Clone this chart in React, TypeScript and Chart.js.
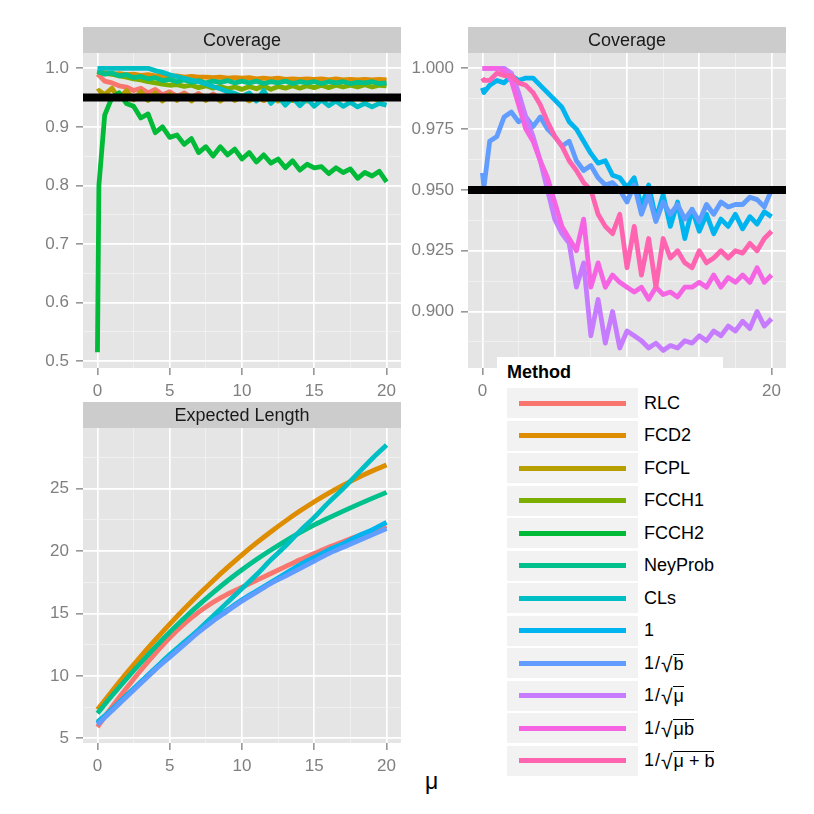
import React, { useEffect, useRef } from "react";
import { Chart, registerables } from "chart.js";

Chart.register(...registerables);

const FONT = '"Liberation Sans", Arial, Helvetica, sans-serif';

// mu grid of the coverage simulations
const muCov = [
  0, 0.1, 0.5, 1, 1.5, 2, 2.5, 3, 3.5, 4, 4.5, 5, 5.5, 6, 6.5, 7, 7.5, 8, 8.5, 9, 9.5,
  10, 10.5, 11, 11.5, 12, 12.5, 13, 13.5, 14, 14.5, 15, 15.5, 16, 16.5, 17, 17.5, 18,
  18.5, 19, 19.5, 20,
];
const muLen = [0, 1, 2, 3, 4, 5, 6, 7, 8, 9, 10, 11, 12, 13, 14, 15, 16, 17, 18, 19, 20];

const coverageTarget = 0.95;

// coverage, classic methods (left panel)
const covRLC = [
  0.99, 0.988, 0.978, 0.975, 0.97, 0.968, 0.962, 0.966, 0.958, 0.964, 0.955, 0.96, 0.952,
  0.958, 0.95, 0.957, 0.948, 0.956, 0.947, 0.955, 0.946, 0.953, 0.946, 0.952, 0.945, 0.951,
  0.946, 0.95, 0.945, 0.95, 0.946, 0.949, 0.945, 0.95, 0.946, 0.949, 0.945, 0.95, 0.946,
  0.949, 0.946, 0.95,
];
const covFCD2 = [
  0.995, 0.994, 0.992, 0.99, 0.991, 0.989, 0.99, 0.988, 0.989, 0.987, 0.988, 0.986, 0.987,
  0.985, 0.986, 0.985, 0.985, 0.984, 0.985, 0.983, 0.984, 0.983, 0.984, 0.982, 0.983, 0.982,
  0.983, 0.981, 0.982, 0.981, 0.982, 0.981, 0.982, 0.98, 0.982, 0.98, 0.981, 0.98, 0.981,
  0.98, 0.981, 0.98,
];
const covFCPL = [
  0.96, 0.962, 0.955, 0.966, 0.948, 0.962, 0.946, 0.96, 0.945, 0.958, 0.944, 0.956, 0.945,
  0.955, 0.944, 0.954, 0.945, 0.953, 0.944, 0.953, 0.945, 0.952, 0.944, 0.952, 0.945, 0.951,
  0.944, 0.951, 0.945, 0.95, 0.944, 0.95, 0.945, 0.95, 0.944, 0.95, 0.945, 0.95, 0.944,
  0.95, 0.945, 0.95,
];
const covFCCH1 = [
  0.993, 0.993, 0.991, 0.99, 0.987, 0.985, 0.982, 0.98, 0.977, 0.975, 0.973, 0.971, 0.972,
  0.969, 0.971, 0.967, 0.97, 0.966, 0.969, 0.965, 0.968, 0.964, 0.969, 0.965, 0.97, 0.964,
  0.969, 0.966, 0.97, 0.966, 0.97, 0.967, 0.971, 0.967, 0.971, 0.968, 0.971, 0.968, 0.972,
  0.968, 0.971, 0.97,
];
const covFCCH2 = [
  0.515, 0.8, 0.92, 0.95, 0.958, 0.94, 0.935, 0.915, 0.922, 0.89, 0.9, 0.882, 0.886, 0.87,
  0.88, 0.856, 0.866, 0.85, 0.866, 0.852, 0.862, 0.845, 0.856, 0.84, 0.852, 0.838, 0.845,
  0.83, 0.842, 0.826, 0.836, 0.83, 0.832, 0.82, 0.83, 0.822, 0.828, 0.812, 0.822, 0.816,
  0.824, 0.806,
];
const covNeyProb = [
  0.995, 0.994, 0.99, 0.992, 0.987, 0.989, 0.984, 0.986, 0.982, 0.984, 0.979, 0.981, 0.977,
  0.98, 0.976, 0.979, 0.975, 0.978, 0.976, 0.979, 0.975, 0.978, 0.975, 0.978, 0.974, 0.977,
  0.975, 0.978, 0.974, 0.977, 0.975, 0.977, 0.974, 0.977, 0.975, 0.977, 0.974, 0.976,
  0.975, 0.977, 0.974, 0.975,
];
const covCLs = [
  1.0, 1.0, 1.0, 1.0, 1.0, 1.0, 1.0, 1.0, 1.0, 0.996, 0.993, 0.989, 0.986, 0.983, 0.98,
  0.977, 0.973, 0.969, 0.965, 0.96, 0.957, 0.952, 0.958, 0.944, 0.962, 0.94, 0.952, 0.937,
  0.95, 0.936, 0.948, 0.935, 0.946, 0.936, 0.944, 0.935, 0.942, 0.934, 0.94, 0.934, 0.94,
  0.937,
];

// coverage, weighted methods (right panel)
const covOne = [
  0.992, 0.99, 0.993, 0.995, 0.994, 0.997, 0.995, 0.996, 0.996, 0.993, 0.99, 0.987, 0.984,
  0.978, 0.975, 0.97, 0.965, 0.961, 0.962, 0.956, 0.955, 0.951, 0.955, 0.943, 0.952, 0.938,
  0.948, 0.935, 0.945, 0.93, 0.942, 0.933, 0.94, 0.932, 0.938, 0.935, 0.94, 0.934, 0.939,
  0.936, 0.941, 0.939,
];
const covInvSqrtB = [
  0.957, 0.951, 0.97, 0.972, 0.98, 0.982, 0.978, 0.98, 0.976, 0.98, 0.975, 0.972, 0.968,
  0.97, 0.962, 0.958, 0.96, 0.955, 0.952, 0.953, 0.95, 0.945, 0.952, 0.94, 0.948, 0.937,
  0.945, 0.94, 0.944, 0.938, 0.942, 0.937, 0.944, 0.94, 0.945, 0.943, 0.944, 0.944, 0.947,
  0.946, 0.943, 0.95,
];
const covInvSqrtMu = [
  1.0, 1.0, 1.0, 1.0, 1.0, 0.998, 0.99, 0.98, 0.972, 0.962, 0.95, 0.938, 0.932, 0.928, 0.91,
  0.92, 0.89, 0.905, 0.887, 0.9, 0.885, 0.892, 0.89, 0.888, 0.885, 0.887, 0.884, 0.886,
  0.885, 0.888, 0.887, 0.89, 0.888, 0.892, 0.89, 0.894, 0.892, 0.896, 0.893, 0.9, 0.894,
  0.897,
];
const covInvSqrtMuB = [
  1.0, 1.0, 1.0, 1.0, 0.999, 0.995, 0.985, 0.975, 0.97, 0.962, 0.955, 0.945, 0.935, 0.93,
  0.925, 0.938, 0.91, 0.92, 0.91, 0.915, 0.912, 0.91, 0.908, 0.91, 0.905, 0.91, 0.907,
  0.908, 0.906, 0.91, 0.91, 0.912, 0.91, 0.915, 0.91, 0.914, 0.912, 0.915, 0.912, 0.918,
  0.912, 0.915,
];
const covInvSqrtMuPlusB = [
  0.996, 0.995, 0.995, 0.998, 0.997, 0.997, 0.994, 0.993, 0.99, 0.985, 0.978, 0.972, 0.968,
  0.962, 0.958, 0.953, 0.95, 0.94, 0.935, 0.932, 0.94, 0.918, 0.935, 0.915, 0.93, 0.91,
  0.93, 0.922, 0.925, 0.92, 0.918, 0.925, 0.92, 0.922, 0.925, 0.922, 0.925, 0.924, 0.928,
  0.925, 0.93, 0.933,
];

// expected interval length (bottom panel)
const lenRLC = [
  5.9, 7.5, 9.0, 10.45, 11.8, 13.05, 14.15, 15.1, 15.9, 16.55, 17.1, 17.65, 18.2, 18.75,
  19.3, 19.8, 20.3, 20.75, 21.2, 21.6, 22.0,
];
const lenFCD2 = [
  7.3, 8.77, 10.2, 11.57, 12.88, 14.15, 15.36, 16.52, 17.63, 18.69, 19.7, 20.65, 21.55,
  22.4, 23.2, 23.95, 24.64, 25.28, 25.87, 26.41, 26.9,
];
const lenNeyProb = [
  7.0, 8.4, 9.75, 11.05, 12.3, 13.5, 14.62, 15.67, 16.67, 17.62, 18.5, 19.32, 20.08, 20.8,
  21.47, 22.1, 22.66, 23.2, 23.72, 24.22, 24.7,
];
const lenCLs = [
  6.3, 7.3, 8.4, 9.5, 10.6, 11.7, 12.7, 13.7, 14.8, 15.9, 17.0, 18.1, 19.3, 20.4, 21.6,
  22.7, 23.9, 25.0, 26.2, 27.4, 28.5,
];
const lenOne = [
  6.2, 7.3, 8.4, 9.5, 10.6, 11.6, 12.6, 13.6, 14.5, 15.3, 16.1, 16.8, 17.5, 18.2, 18.9,
  19.5, 20.1, 20.6, 21.2, 21.7, 22.3,
];
const lenInvSqrtB = [
  6.1, 7.2, 8.3, 9.4, 10.5, 11.5, 12.5, 13.5, 14.4, 15.2, 16.0, 16.7, 17.4, 18.0, 18.6,
  19.2, 19.8, 20.3, 20.8, 21.3, 21.8,
];

const methods = [
  "RLC", "FCD2", "FCPL", "FCCH1", "FCCH2", "NeyProb", "CLs",
  "1", "1/√b", "1/√μ", "1/√μb", "1/√(μ+b)",
];
const methodColors = [
  "#F8766D", "#DE8C00", "#B79F00", "#7CAE00", "#00BA38", "#00C08B", "#00BFC4",
  "#00B4F0", "#619CFF", "#C77CFF", "#F564E3", "#FF64B0",
];

const xMajor = [0, 5, 10, 15, 20];
const xMinor = [2.5, 7.5, 12.5, 17.5];

type Series = { method: string; values: number[] };

const AXIS_W = 83;
const PLOT_W = 318;
const PLOT_H = 315;
const STRIP_H = 26;
const XAXIS_H = 34;
const RIGHT_PAD = 9;

interface PanelProps {
  left: number;
  top: number;
  title: string;
  mu: number[];
  series: Series[];
  yMin: number;
  yMax: number;
  yMajor: number[];
  yMinor: number[];
  digits: number;
  hline?: number;
  smooth?: boolean;
}

const isIn = (v: number, list: number[]) => list.some((m) => Math.abs(m - v) < 1e-9);

const Panel: React.FC<PanelProps> = (p) => {
  const canvasRef = useRef<HTMLCanvasElement | null>(null);
  const width = AXIS_W + PLOT_W + RIGHT_PAD;
  const height = STRIP_H + PLOT_H + XAXIS_H;

  useEffect(() => {
    if (!canvasRef.current) return;
    const ctx = canvasRef.current.getContext("2d");
    if (!ctx) return;

    const decor = {
      id: "decor",
      beforeDraw(chart: any) {
        const { ctx: c, chartArea: a } = chart;
        c.save();
        c.fillStyle = "#E5E5E5";
        c.fillRect(a.left, a.top, a.right - a.left, a.bottom - a.top);
        c.fillStyle = "#CCCCCC";
        c.fillRect(a.left, a.top - STRIP_H, a.right - a.left, STRIP_H);
        c.fillStyle = "#1A1A1A";
        c.font = `18px ${FONT}`;
        c.textAlign = "center";
        c.textBaseline = "middle";
        c.fillText(p.title, (a.left + a.right) / 2, a.top - STRIP_H / 2 + 1.5);
        c.restore();
      },
      afterDatasetsDraw(chart: any) {
        if (p.hline === undefined) return;
        const { ctx: c, chartArea: a } = chart;
        const y = chart.scales.y.getPixelForValue(p.hline);
        c.save();
        c.strokeStyle = "#000000";
        c.lineWidth = 8;
        c.beginPath();
        c.moveTo(a.left, y);
        c.lineTo(a.right, y);
        c.stroke();
        c.restore();
      },
    };

    const n = p.series.length;
    const chart = new Chart(ctx, {
      type: "line",
      data: {
        datasets: p.series.map((s, i) => ({
          label: s.method,
          data: p.mu.map((x, j) => ({ x, y: s.values[j] })),
          borderColor: methodColors[methods.indexOf(s.method)],
          borderWidth: 4.8,
          pointRadius: 0,
          fill: false,
          order: n - i,
          cubicInterpolationMode: p.smooth ? "monotone" : "default",
          tension: 0,
          borderJoinStyle: "round",
          borderCapStyle: "butt",
        })),
      },
      options: {
        animation: false,
        responsive: false,
        devicePixelRatio: 1,
        layout: { padding: { top: STRIP_H, right: RIGHT_PAD, left: 0, bottom: 0 } },
        plugins: {
          legend: { display: false },
          tooltip: { enabled: false },
        },
        scales: {
          x: {
            type: "linear",
            min: -1,
            max: 21,
            afterBuildTicks: (scale: any) => {
              scale.ticks = [...xMajor, ...xMinor].sort((a, b) => a - b).map((value) => ({ value }));
            },
            afterFit: (scale: any) => {
              scale.height = XAXIS_H;
            },
            border: { display: false },
            grid: {
              color: (c: any) => (isIn(c.tick.value, xMajor) ? "#FFFFFF" : "#F2F2F2"),
              lineWidth: (c: any) => (isIn(c.tick.value, xMajor) ? 1.7 : 0.8),
              tickColor: (c: any) => (isIn(c.tick.value, xMajor) ? "#7F7F7F" : "rgba(0,0,0,0)"),
              tickWidth: 1.3,
              tickLength: 7,
            },
            ticks: {
              autoSkip: false,
              maxRotation: 0,
              padding: 6,
              color: "#7F7F7F",
              font: { family: FONT, size: 17 },
              callback: (v: any) => (isIn(Number(v), xMajor) ? String(v) : ""),
            },
          },
          y: {
            type: "linear",
            min: p.yMin,
            max: p.yMax,
            afterBuildTicks: (scale: any) => {
              scale.ticks = [...p.yMajor, ...p.yMinor].sort((a, b) => a - b).map((value) => ({ value }));
            },
            afterFit: (scale: any) => {
              scale.width = AXIS_W;
            },
            border: { display: false },
            grid: {
              color: (c: any) => (isIn(c.tick.value, p.yMajor) ? "#FFFFFF" : "#F2F2F2"),
              lineWidth: (c: any) => (isIn(c.tick.value, p.yMajor) ? 1.7 : 0.8),
              tickColor: (c: any) => (isIn(c.tick.value, p.yMajor) ? "#7F7F7F" : "rgba(0,0,0,0)"),
              tickWidth: 1.3,
              tickLength: 7,
            },
            ticks: {
              autoSkip: false,
              padding: 7,
              color: "#7F7F7F",
              font: { family: FONT, size: 17 },
              callback: (v: any) => (isIn(Number(v), p.yMajor) ? Number(v).toFixed(p.digits) : ""),
            },
          },
        },
      } as any,
      plugins: [decor],
    });

    return () => {
      chart.destroy();
    };
  }, [p]);

  return (
    <canvas
      ref={canvasRef}
      width={width}
      height={height}
      style={{ position: "absolute", left: p.left, top: p.top, width, height }}
    />
  );
};

const MethodLabel: React.FC<{ name: string }> = ({ name }) => {
  if (!name.startsWith("1/√")) return <span>{name}</span>;
  const rad = name.slice(3).replace("(", "").replace(")", "").replace("+", " + ");
  return (
    <span style={{ display: "inline-flex", alignItems: "flex-end" }}>
      <span>1</span>
      <span style={{ margin: "0 1px" }}>/</span>
      <span style={{ fontSize: 21, lineHeight: "21px", transform: "translateY(1px)" }}>√</span>
      <span style={{ borderTop: "1.3px solid #000", lineHeight: "19px", paddingLeft: 1 }}>
        {rad}
      </span>
    </span>
  );
};

const leftSeries: Series[] = [
  { method: "RLC", values: covRLC },
  { method: "FCD2", values: covFCD2 },
  { method: "FCPL", values: covFCPL },
  { method: "FCCH1", values: covFCCH1 },
  { method: "FCCH2", values: covFCCH2 },
  { method: "NeyProb", values: covNeyProb },
  { method: "CLs", values: covCLs },
];
const rightSeries: Series[] = [
  { method: "1", values: covOne },
  { method: "1/√b", values: covInvSqrtB },
  { method: "1/√μ", values: covInvSqrtMu },
  { method: "1/√μb", values: covInvSqrtMuB },
  { method: "1/√(μ+b)", values: covInvSqrtMuPlusB },
];
const lengthSeries: Series[] = [
  { method: "RLC", values: lenRLC },
  { method: "FCD2", values: lenFCD2 },
  { method: "NeyProb", values: lenNeyProb },
  { method: "CLs", values: lenCLs },
  { method: "1", values: lenOne },
  { method: "1/√b", values: lenInvSqrtB },
];

const App: React.FC = () => {
  return (
    <div
      style={{
        position: "absolute",
        left: 0,
        top: 0,
        width: 814,
        height: 814,
        background: "#FFFFFF",
        fontFamily: FONT,
        overflow: "hidden",
      }}
    >
      <Panel
        left={0}
        top={27}
        title="Coverage"
        mu={muCov}
        series={leftSeries}
        yMin={0.488}
        yMax={1.0261}
        yMajor={[0.5, 0.6, 0.7, 0.8, 0.9, 1.0]}
        yMinor={[0.55, 0.65, 0.75, 0.85, 0.95]}
        digits={1}
        hline={coverageTarget}
      />
      <Panel
        left={385}
        top={27}
        title="Coverage"
        mu={muCov}
        series={rightSeries}
        yMin={0.87677}
        yMax={1.00629}
        yMajor={[0.9, 0.925, 0.95, 0.975, 1.0]}
        yMinor={[0.8875, 0.9125, 0.9375, 0.9625, 0.9875]}
        digits={3}
        hline={coverageTarget}
      />
      <Panel
        left={0}
        top={402}
        title="Expected Length"
        mu={muLen}
        series={lengthSeries}
        yMin={4.62}
        yMax={29.86}
        yMajor={[5, 10, 15, 20, 25]}
        yMinor={[7.5, 12.5, 17.5, 22.5, 27.5]}
        digits={0}
        smooth
      />
      <div
        style={{
          position: "absolute",
          left: 425,
          top: 768,
          fontSize: 23,
          color: "#000",
        }}
      >
        μ
      </div>
      <div
        style={{
          position: "absolute",
          left: 497,
          top: 357,
          width: 226,
          height: 420,
          background: "#FFFFFF",
        }}
      >
        <div
          style={{
            position: "absolute",
            left: 10,
            top: 5,
            fontSize: 18,
            fontWeight: "bold",
            lineHeight: "20px",
            color: "#000",
          }}
        >
          Method
        </div>
        {methods.map((m, i) => (
          <div
            key={m}
            style={{
              position: "absolute",
              left: 10,
              top: 31 + i * 32.5,
              height: 30,
              display: "flex",
              alignItems: "center",
            }}
          >
            <div
              style={{
                width: 131,
                height: 30,
                background: "#F2F2F2",
                position: "relative",
              }}
            >
              <div
                style={{
                  position: "absolute",
                  left: 12,
                  width: 107,
                  top: 12.5,
                  height: 5,
                  background: methodColors[i],
                }}
              />
            </div>
            <div style={{ marginLeft: 6, fontSize: 18, color: "#000", whiteSpace: "nowrap" }}>
              <MethodLabel name={m} />
            </div>
          </div>
        ))}
      </div>
    </div>
  );
};

export default App;
